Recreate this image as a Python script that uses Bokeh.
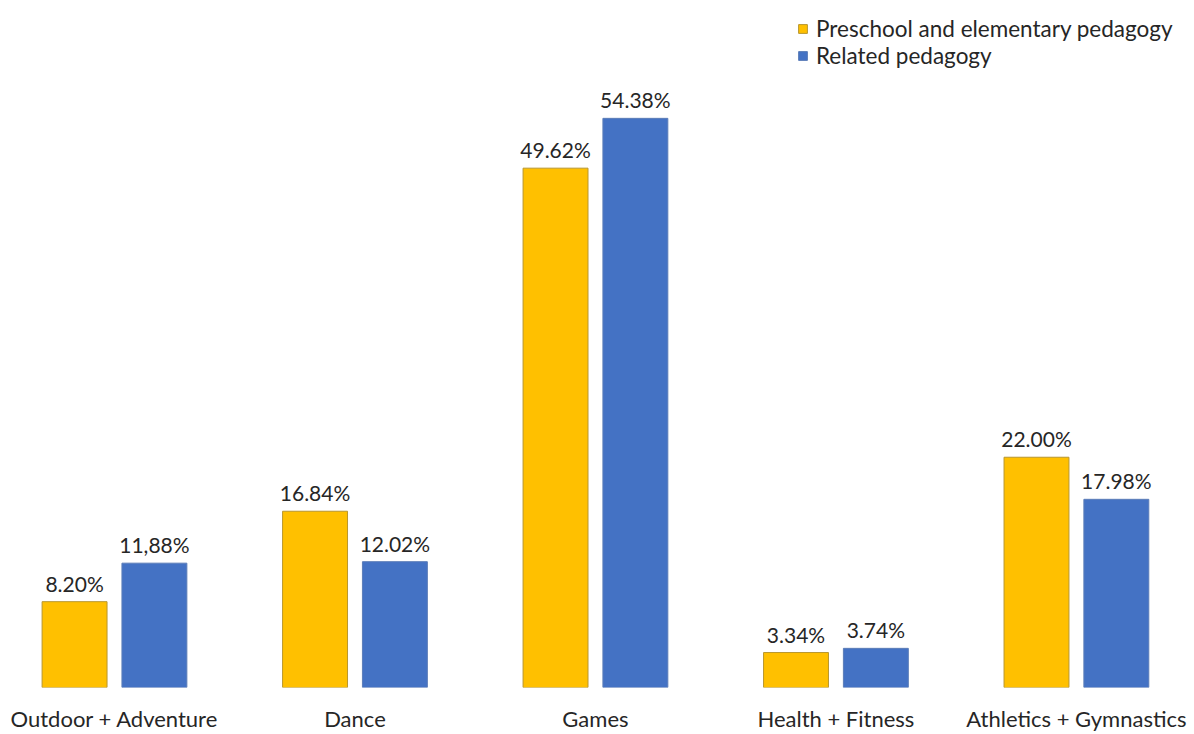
from bokeh.plotting import figure
from bokeh.models import ColumnDataSource, Range1d, FixedTicker, Legend, LegendItem, LabelSet
from bokeh.core.properties import value
from bokeh.embed import file_html
from bokeh.resources import INLINE

categories = ["Outdoor + Adventure", "Dance", "Games", "Health + Fitness", "Athletics + Gymnastics"]
series_names = ["Preschool and elementary pedagogy", "Related pedagogy"]
preschool = [8.20, 16.84, 49.62, 3.34, 22.00]
related = [11.88, 12.02, 54.38, 3.74, 17.98]
preschool_labels = ["8.20%", "16.84%", "49.62%", "3.34%", "22.00%"]
related_labels = ["11,88%", "12.02%", "54.38%", "3.74%", "17.98%"]

FONT = "Lato"
YELLOW = "#FFC000"
BLUE = "#4472C4"
TXT = "#262626"

centers = [i + 0.5 for i in range(len(categories))]
off = 0.166
bw = 0.27

src_a = ColumnDataSource(dict(x=[c - off for c in centers], top=preschool, lab=preschool_labels))
src_b = ColumnDataSource(dict(x=[c + off for c in centers], top=related, lab=related_labels))

p = figure(width=1194, height=734, output_backend="svg", toolbar_location=None,
           x_range=Range1d(0.026, 4.991), y_range=Range1d(0, 65.64),
           min_border_left=0, min_border_right=0, min_border_top=0, min_border_bottom=46)
p.outline_line_color = None
p.background_fill_color = "white"
p.grid.visible = False
p.yaxis.visible = False

ra = p.vbar(x="x", top="top", width=bw, source=src_a, fill_color=YELLOW, line_color="#B8962E", line_width=1)
rb = p.vbar(x="x", top="top", width=bw, source=src_b, fill_color=BLUE, line_color="#5B7DB8", line_width=1)

for s in (src_a, src_b):
    lbl = LabelSet(x="x", y="top", text="lab", source=s, text_align="center", text_baseline="bottom",
                   y_offset=6, text_font=value(FONT), text_font_size="21px", text_color=TXT)
    p.add_layout(lbl)

ax = p.xaxis[0]
ax.ticker = FixedTicker(ticks=centers)
ax.major_label_overrides = {c: n for c, n in zip(centers, categories)}
ax.axis_line_color = None
ax.major_tick_line_color = None
ax.minor_tick_line_color = None
ax.major_label_text_font = FONT
ax.major_label_text_font_size = "22px"
ax.major_label_text_color = TXT
ax.major_label_standoff = 11

legend = Legend(items=[LegendItem(label=series_names[0], renderers=[ra]),
                       LegendItem(label=series_names[1], renderers=[rb])],
                location=(797, 618), label_text_font=FONT, label_text_font_size="22.5px",
                label_text_color=TXT, glyph_width=11, glyph_height=11, spacing=0,
                label_standoff=8, padding=0, margin=0, border_line_color=None,
                background_fill_alpha=0, label_height=22)
p.add_layout(legend)

open("out.html", "w").write(file_html(p, INLINE))
